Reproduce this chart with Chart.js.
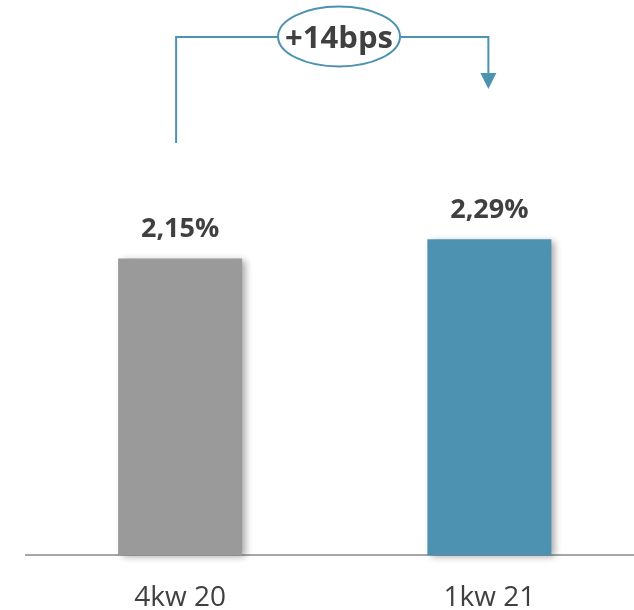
<!DOCTYPE html>
<html>
<head>
<meta charset="utf-8">
<script src="https://cdn.jsdelivr.net/npm/chart.js@4/dist/chart.umd.min.js"></script>
<style>
  html, body { margin: 0; padding: 0; background: #fff; overflow: hidden; }
  #wrap { width: 634px; height: 610px; position: relative; overflow: hidden; }
</style>
</head>
<body>
<div id="wrap"><canvas id="c" width="644" height="641"></canvas></div>
<script>
const categories = ["4kw 20", "1kw 21"];
const values = [2.15, 2.29];
const valueLabels = ["2,15%", "2,29%"];
const barColors = ["#9a9a9a", "#4d93b1"];
const changeLabel = "+14bps";

const FONT = "'Open Sans', sans-serif";
const TEXT = "#404040";
const ACCENT = "#4d93b1";

const shadowPlugin = {
  id: 'barShadow',
  beforeDatasetsDraw(chart) {
    const ctx = chart.ctx;
    ctx.save();
    ctx.shadowColor = 'rgba(0,0,0,0.35)';
    ctx.shadowBlur = 7;
    ctx.shadowOffsetX = 4;
    ctx.shadowOffsetY = 2;
  },
  afterDatasetsDraw(chart) {
    chart.ctx.restore();
  }
};

const labelPlugin = {
  id: 'valueLabels',
  afterDatasetsDraw(chart) {
    const ctx = chart.ctx;
    const meta = chart.getDatasetMeta(0);
    ctx.save();
    ctx.font = "bold 27px " + FONT;
    ctx.fillStyle = TEXT;
    ctx.textAlign = 'center';
    ctx.textBaseline = 'alphabetic';
    meta.data.forEach((bar, i) => {
      ctx.fillText(valueLabels[i], bar.x, bar.y - 21);
    });
    ctx.restore();
  }
};

const annotationPlugin = {
  id: 'changeAnnotation',
  afterDraw(chart) {
    const ctx = chart.ctx;
    const xs = chart.scales.x;
    const x1 = xs.getPixelForValue(0) - 4;
    const x2 = xs.getPixelForValue(1) - 1;
    const lineY = 37;
    const cx = 339, cy = 36.5, rx = 61, ry = 30;
    ctx.save();
    ctx.strokeStyle = ACCENT;
    ctx.lineWidth = 2;
    ctx.beginPath();
    ctx.moveTo(x1, 143);
    ctx.lineTo(x1, lineY);
    ctx.lineTo(cx - rx, lineY);
    ctx.stroke();
    ctx.beginPath();
    ctx.moveTo(cx + rx, lineY);
    ctx.lineTo(x2, lineY);
    ctx.lineTo(x2, 74);
    ctx.stroke();
    ctx.fillStyle = ACCENT;
    ctx.beginPath();
    ctx.moveTo(x2 - 8, 73);
    ctx.lineTo(x2 + 8, 73);
    ctx.lineTo(x2, 89);
    ctx.closePath();
    ctx.fill();
    ctx.beginPath();
    ctx.ellipse(cx, cy, rx, ry, 0, 0, Math.PI * 2);
    ctx.fillStyle = '#fff';
    ctx.fill();
    ctx.stroke();
    ctx.fillStyle = TEXT;
    ctx.font = "bold 31px " + FONT;
    ctx.textAlign = 'center';
    ctx.textBaseline = 'alphabetic';
    ctx.fillText(changeLabel, cx, 48);
    ctx.restore();
  }
};

new Chart(document.getElementById('c'), {
  type: 'bar',
  data: {
    labels: categories,
    datasets: [{
      data: values,
      backgroundColor: barColors,
      borderWidth: 0,
      barPercentage: 0.401,
      categoryPercentage: 1.0,
      clip: false
    }]
  },
  options: {
    responsive: false,
    animation: false,
    events: [],
    layout: { padding: { left: 25.5, right: 0, top: 3, bottom: 0 } },
    plugins: { legend: { display: false }, tooltip: { enabled: false } },
    scales: {
      x: {
        grid: { display: false, drawTicks: false },
        border: { display: true, color: '#a6a6a6', width: 2 },
        ticks: { color: TEXT, font: { family: FONT, size: 28 }, padding: 26 }
      },
      y: {
        display: false,
        min: 0,
        max: 4
      }
    }
  },
  plugins: [shadowPlugin, labelPlugin, annotationPlugin]
});
</script>
</body>
</html>
